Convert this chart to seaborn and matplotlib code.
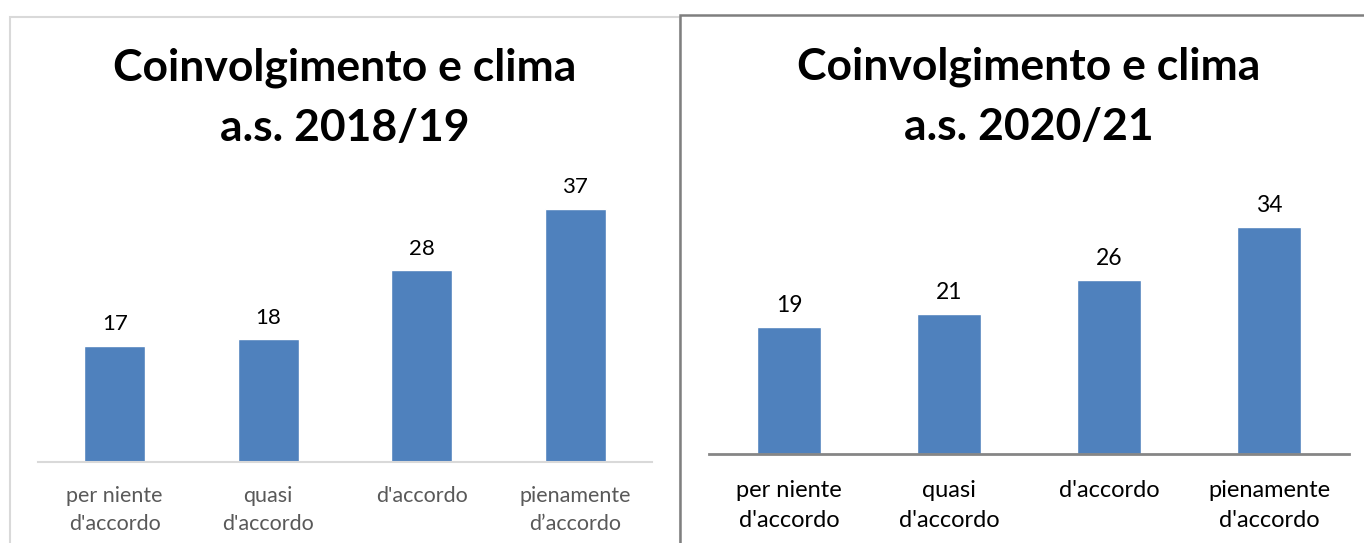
import matplotlib.pyplot as plt
import seaborn as sns
import pandas as pd
from matplotlib.patches import Rectangle

categorie = ["per niente\nd'accordo", "quasi\nd'accordo", "d'accordo", "pienamente\nd’accordo"]
categorie_2021 = ["per niente\nd'accordo", "quasi\nd'accordo", "d'accordo", "pienamente\nd'accordo"]
valori_2018 = [17, 18, 28, 37]
valori_2021 = [19, 21, 26, 34]
titolo_2018 = "Coinvolgimento e clima\na.s. 2018/19"
titolo_2021 = "Coinvolgimento e clima\na.s. 2020/21"

sns.set_style("white")
plt.rcParams['font.family'] = ['Lato', 'DejaVu Sans']

W, H = 1364, 543
fig = plt.figure(figsize=(W / 100, H / 100), dpi=100)


def px_axes(x0, x1, y_top, y_base):
    return fig.add_axes([x0 / W, (H - y_base) / H, (x1 - x0) / W, (y_base - y_top) / H])


# riquadri dei due grafici (il bordo inferiore esce dall'immagine)
fig.patches.append(Rectangle((10 / W, -0.2), 670 / W, (H - 17) / H + 0.2, transform=fig.transFigure,
                             fill=False, edgecolor='#d9d9d9', lw=1.5, clip_on=False))
fig.patches.append(Rectangle((680 / W, -0.2), 700 / W, (H - 15) / H + 0.2, transform=fig.transFigure,
                             fill=False, edgecolor='#7f7f7f', lw=1.8, clip_on=False))

# pannello sinistro
ax1 = px_axes(38, 652, 188, 462)
df1 = pd.DataFrame({'cat': categorie, 'val': valori_2018})
sns.barplot(data=df1, x='cat', y='val', color='#4F81BD', saturation=1, width=0.4, ax=ax1)
ax1.set_ylim(0, 40)
ax1.bar_label(ax1.containers[0], fontsize=16, padding=8, color='black')
ax1.set_xlabel('')
ax1.set_ylabel('')
ax1.set_yticks([])
for s in ['top', 'left', 'right']:
    ax1.spines[s].set_visible(False)
ax1.spines['bottom'].set_color('#d9d9d9')
ax1.spines['bottom'].set_linewidth(1.5)
ax1.tick_params(axis='x', length=0, pad=17, labelsize=15.5, labelcolor='#595959')
for t in ax1.get_xticklabels():
    t.set_linespacing(1.5)
ax1.set_title(titolo_2018, fontsize=32, fontweight='bold', linespacing=1.6, pad=34, color='black')

# pannello destro
ax2 = px_axes(709, 1349, 187, 454)
df2 = pd.DataFrame({'cat': categorie_2021, 'val': valori_2021})
sns.barplot(data=df2, x='cat', y='val', color='#4F81BD', saturation=1, width=0.4, ax=ax2)
ax2.set_ylim(0, 40)
ax2.bar_label(ax2.containers[0], fontsize=16.5, padding=8, color='black')
ax2.set_xlabel('')
ax2.set_ylabel('')
ax2.set_yticks([])
for s in ['top', 'left', 'right']:
    ax2.spines[s].set_visible(False)
ax2.spines['bottom'].set_color('#868686')
ax2.spines['bottom'].set_linewidth(2)
ax2.tick_params(axis='x', length=0, pad=19, labelsize=17, labelcolor='black')
for t in ax2.get_xticklabels():
    t.set_linespacing(1.5)
ax2.set_title(titolo_2021, fontsize=32, fontweight='bold', linespacing=1.6, pad=34, color='black')

fig.savefig('out.png', dpi=100)
